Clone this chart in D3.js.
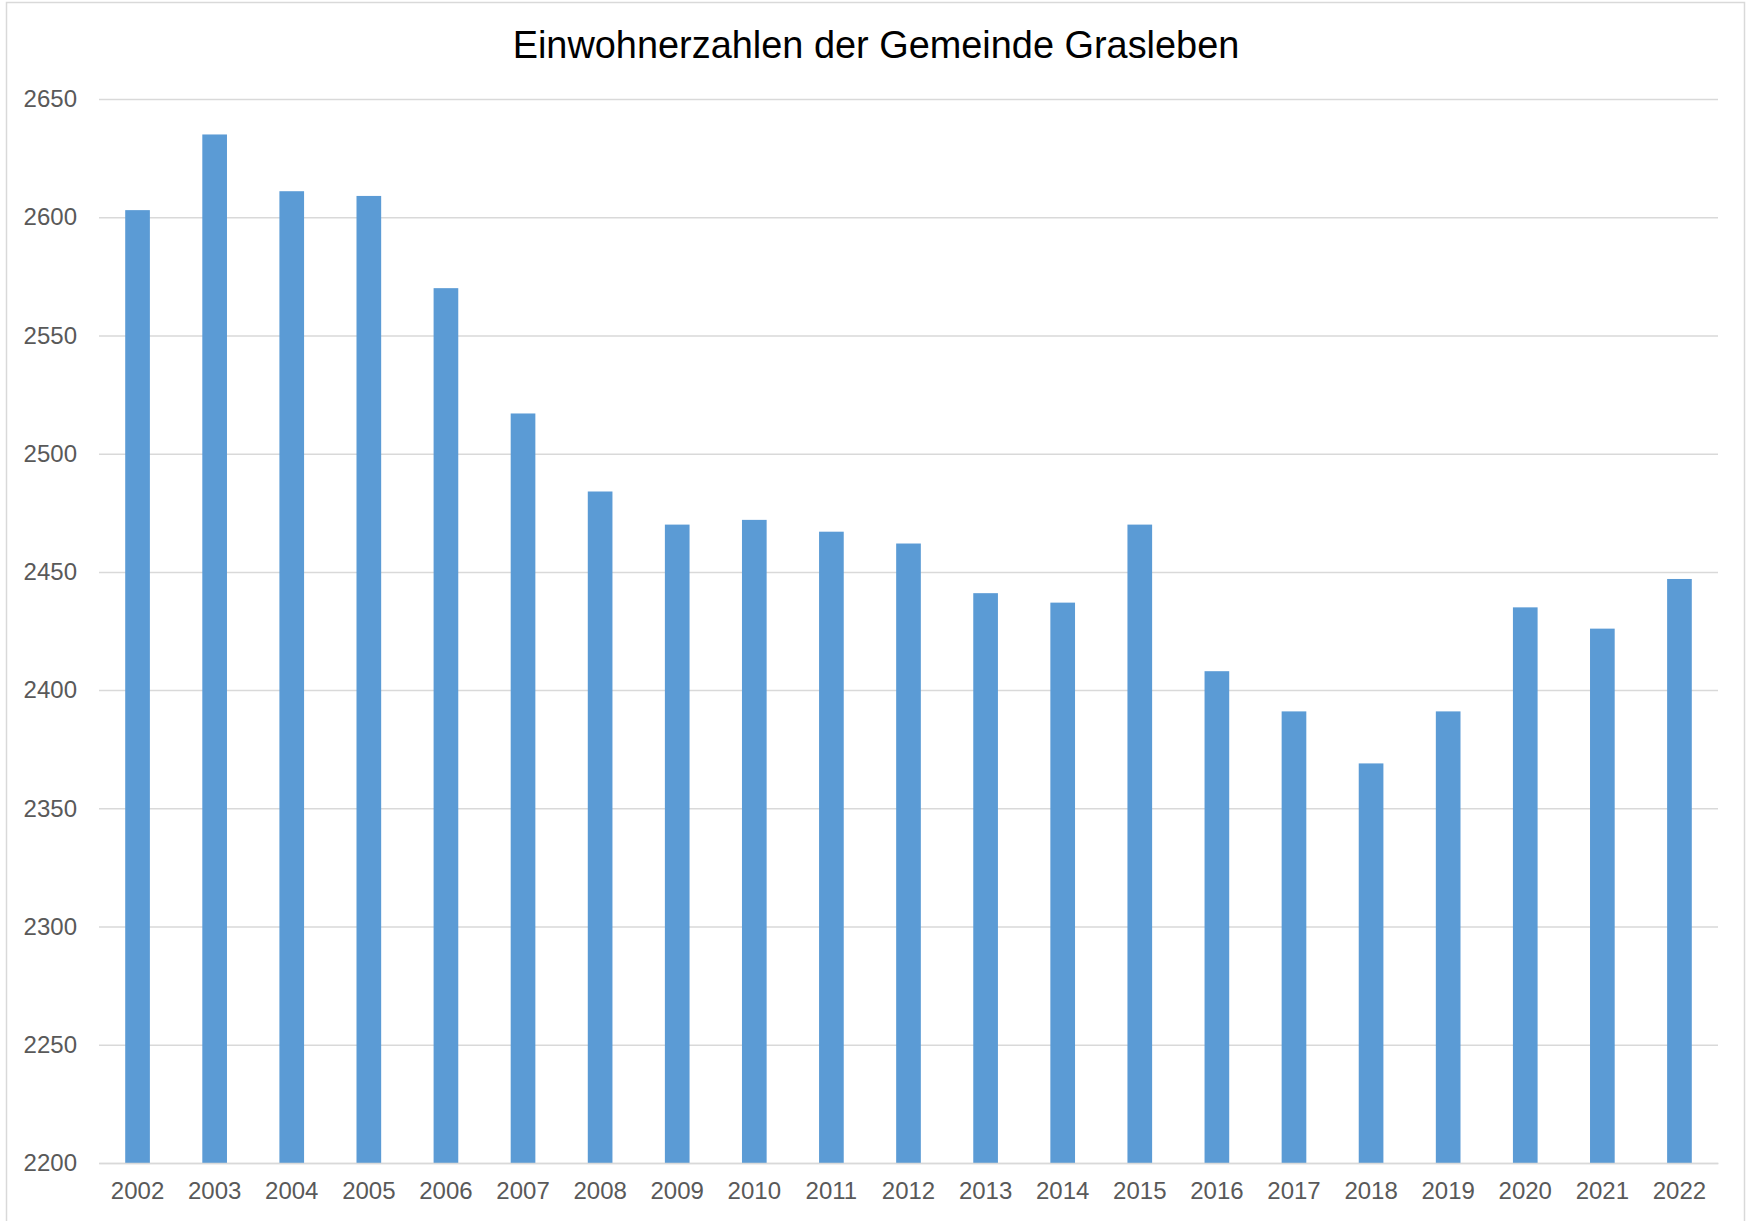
<!DOCTYPE html>
<html>
<head>
<meta charset="utf-8">
<script src="https://cdn.jsdelivr.net/npm/d3@7"></script>
<style>
  html, body { margin: 0; padding: 0; background: #fff; }
  svg { display: block; }
</style>
</head>
<body>
<svg id="chart" width="1746" height="1221"></svg>
<script>
const title = "Einwohnerzahlen der Gemeinde Grasleben";
const years = ["2002","2003","2004","2005","2006","2007","2008","2009","2010","2011","2012","2013","2014","2015","2016","2017","2018","2019","2020","2021","2022"];
const population = [2603, 2635, 2611, 2609, 2570, 2517, 2484, 2470, 2472, 2467, 2462, 2441, 2437, 2470, 2408, 2391, 2369, 2391, 2435, 2426, 2447];
const yTicks = [2200, 2250, 2300, 2350, 2400, 2450, 2500, 2550, 2600, 2650];

const svg = d3.select("#chart");
const W = 1746, H = 1221;
const plot = { left: 99, right: 1718, top: 99, bottom: 1163 };

svg.append("rect").attr("x", 0).attr("y", 0).attr("width", W).attr("height", H).attr("fill", "#fff");
svg.append("rect")
  .attr("x", 6.5).attr("y", 2.5).attr("width", 1738).attr("height", 1240)
  .attr("fill", "none").attr("stroke", "#d9d9d9").attr("stroke-width", 1.5);

const x = d3.scaleBand().domain(years).range([plot.left, plot.right]).paddingInner(0.68).paddingOuter(0.34);
const y = d3.scaleLinear().domain([2200, 2650]).range([plot.bottom, plot.top]);

// gridlines
const yAxis = d3.axisLeft(y).tickValues(yTicks).tickSize(-(plot.right - plot.left)).tickPadding(22).tickFormat(d3.format("d"));
const gy = svg.append("g").attr("transform", `translate(${plot.left},0)`).call(yAxis);
gy.select(".domain").remove();
gy.selectAll(".tick line").attr("stroke", "#d9d9d9").attr("stroke-width", 1.5);
gy.selectAll(".tick text").attr("fill", "#595959").style("font-family", "Liberation Sans, Arial, sans-serif").style("font-size", "24px");

// bars
svg.append("g").selectAll("rect").data(years).join("rect")
  .attr("x", d => x(d))
  .attr("width", x.bandwidth())
  .attr("y", (d, i) => y(population[i]))
  .attr("height", (d, i) => y(2200) - y(population[i]))
  .attr("fill", "#5b9bd5");

// x axis
const xAxis = d3.axisBottom(x).tickSize(0).tickPadding(19);
const gx = svg.append("g").attr("transform", `translate(0,${plot.bottom})`).call(xAxis);
gx.select(".domain").attr("stroke", "#d9d9d9").attr("stroke-width", 1.5);
gx.selectAll(".tick text").attr("fill", "#595959").style("font-family", "Liberation Sans, Arial, sans-serif").style("font-size", "24px");

// title
svg.append("text")
  .attr("x", 876).attr("y", 58)
  .attr("text-anchor", "middle")
  .attr("fill", "#000")
  .style("font-family", "Liberation Sans, Arial, sans-serif")
  .style("font-size", "37.9px")
  .text(title);
</script>
</body>
</html>
